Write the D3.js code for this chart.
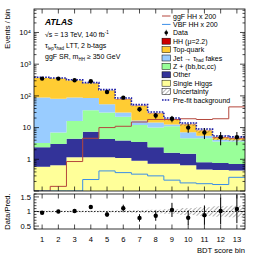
<!DOCTYPE html>
<html lang="en">
<head>
<meta charset="UTF-8">
<script src="https://d3js.org/d3.v7.min.js"></script>
<style>
    body { margin: 0; background: #fff; }
    svg { display: block; font-family: "Liberation Sans", Arial, sans-serif; }
    .lbl { font-size: 7px; fill: #000; }
    .tick { font-size: 7.6px; fill: #000; }
</style>
</head>
<body>
<svg id="chart" width="266" height="255"></svg>
<script>
const bins = [1, 2, 3, 4, 5, 6, 7, 8, 9, 10, 11, 12, 13];
const singleHiggs = [0.48, 0.55, 1.05, 1.05, 1.05, 1.0, 0.8, 0.62, 0.62, 0.55, 0.38, 0.36, 0.34];
const other = [1.8, 2.4, 3.3, 6.2, 3.2, 2.8, 2.6, 1.7, 0.9, 0.85, 0.32, 0.3, 0.27];
const zhf = [0.9, 3.9, 11.7, 27.7, 25.7, 18.2, 8.6, 7.7, 9.5, 3.1, 3.8, 2.85, 2.9];
const jetFakes = [85, 75, 72, 50, 24, 8, 4.5, 4.4, 1.5, 2.5, 0.9, 0.55, 0.4];
const topQuark = [278, 269, 217, 166, 93, 48, 31.5, 13.1, 5.2, 5.4, 2.4, 0.7, 0.5];
const hh = [0.05, 0.1, 0.2, 0.5, 0.9, 1.0, 0.7, 0.5, 0.3, 0.3, 0.2, 0.15, 0.2];
const data = [351, 351, 311, 290, 133, 88, 38, 24, 19, 10, 7, 5, 5];
const prefit = [385, 368, 322, 262, 158, 86, 53, 31, 20, 14, 9, 5.4, 5.1];
const uncRel = [0.03, 0.03, 0.03, 0.03, 0.03, 0.04, 0.05, 0.06, 0.08, 0.12, 0.15, 0.18, 0.2];
const ggfHH = [0.05, 0.14, 0.85, 4.6, 10, 11, 15, 18, 18, 19, 18, 19, 45];
const vbfHH = [0.05, 0.05, 0.05, 0.23, 0.43, 0.38, 0.34, 0.30, 0.22, 0.18, 0.17, 0.16, 0.27];
const yTicks = [1, 10, 100, 1000, 10000];
const yTickLabels = ["1", "10", "10²", "10³", "10⁴"];
const ratioTicks = [0.5, 1, 1.5];

// stack order, bottom to top
const components = [
    { name: "Single Higgs", values: singleHiggs, color: "#ffff99" },
    { name: "Other", values: other, color: "#333399" },
    { name: "Z + (bb,bc,cc)", values: zhf, color: "#99ff99" },
    { name: "Jet fakes", values: jetFakes, color: "#99ccff" },
    { name: "Top-quark", values: topQuark, color: "#ffcc33" },
    { name: "HH", values: hh, color: "#cc0000" }
];

const svg = d3.select("#chart");
const left = 34, right = 245;
const mainTop = 9, mainBottom = 191;
const ratioTop = 194, ratioBottom = 229;

const x = d3.scaleLinear().domain([0.5, 13.5]).range([left, right]);
const y = d3.scaleLog().domain([0.1, 5.5e4]).range([mainBottom, mainTop]).clamp(true);
const yr = d3.scaleLinear().domain([0.4, 1.6]).range([ratioBottom, ratioTop]);

const defs = svg.append("defs");
defs.append("clipPath").attr("id", "clipMain").append("rect")
    .attr("x", left).attr("y", mainTop).attr("width", right - left).attr("height", mainBottom - mainTop);
defs.append("clipPath").attr("id", "clipRatio").append("rect")
    .attr("x", left).attr("y", ratioTop).attr("width", right - left).attr("height", ratioBottom - ratioTop);
const hatch = defs.append("pattern").attr("id", "hatch").attr("patternUnits", "userSpaceOnUse")
    .attr("width", 3).attr("height", 3).attr("patternTransform", "rotate(45)");
hatch.append("line").attr("x1", 0).attr("y1", 0).attr("x2", 0).attr("y2", 3)
    .attr("stroke", "#444").attr("stroke-width", 0.8);

// cumulative stacking
let cum = bins.map(() => 0.1);
const layers = components.map(c => {
    const lo = cum.slice();
    const hi = cum.map((v, i) => v + c.values[i]);
    cum = hi;
    return { ...c, lo, hi };
});
const total = bins.map((b, i) => components.reduce((s, c) => s + c.values[i], 0));

const stepPts = arr => {
    const pts = bins.map((b, i) => ({ x: b - 0.5, v: arr[i] }));
    pts.push({ x: 13.5, v: arr[arr.length - 1] });
    return pts;
};

const gMain = svg.append("g").attr("clip-path", "url(#clipMain)");
layers.forEach(l => {
    const pts = bins.map((b, i) => ({ x: b - 0.5, lo: l.lo[i], hi: l.hi[i] }));
    pts.push({ x: 13.5, lo: l.lo[12], hi: l.hi[12] });
    gMain.append("path")
        .datum(pts)
        .attr("fill", l.color)
        .attr("d", d3.area().curve(d3.curveStepAfter)
            .x(d => x(d.x)).y0(d => y(d.lo)).y1(d => y(d.hi)));
});

// uncertainty band
gMain.selectAll(".unc").data(bins).enter().append("rect")
    .attr("x", d => x(d - 0.5)).attr("width", x(1) - x(0))
    .attr("y", (d, i) => y(total[i] * (1 + uncRel[i])))
    .attr("height", (d, i) => y(total[i] * (1 - uncRel[i])) - y(total[i] * (1 + uncRel[i])))
    .attr("fill", "url(#hatch)");

const stepLine = d3.line().curve(d3.curveStepAfter).x(d => x(d.x)).y(d => y(d.v));
gMain.append("path").datum(stepPts(ggfHH)).attr("d", stepLine)
    .attr("fill", "none").attr("stroke", "#b5473c").attr("stroke-width", 1);
gMain.append("path").datum(stepPts(vbfHH)).attr("d", stepLine)
    .attr("fill", "none").attr("stroke", "#3b8ee8").attr("stroke-width", 1);
gMain.append("path").datum(stepPts(prefit)).attr("d", stepLine)
    .attr("fill", "none").attr("stroke", "#1c1ca8").attr("stroke-width", 1.6)
    .attr("stroke-dasharray", "1.6,1.2");

// data points
bins.forEach((b, i) => {
    const e = Math.sqrt(data[i]);
    gMain.append("line").attr("x1", x(b)).attr("x2", x(b))
        .attr("y1", y(data[i] + e)).attr("y2", y(Math.max(data[i] - e, 0.1)))
        .attr("stroke", "#000").attr("stroke-width", 1);
    gMain.append("circle").attr("cx", x(b)).attr("cy", y(data[i])).attr("r", 2.2).attr("fill", "#000");
});

// ratio panel
const gRatio = svg.append("g").attr("clip-path", "url(#clipRatio)");
gRatio.selectAll(".runc").data(bins).enter().append("rect")
    .attr("x", d => x(d - 0.5)).attr("width", x(1) - x(0))
    .attr("y", (d, i) => yr(1 + uncRel[i]))
    .attr("height", (d, i) => yr(1 - uncRel[i]) - yr(1 + uncRel[i]))
    .attr("fill", "url(#hatch)");
gRatio.append("line").attr("x1", left).attr("x2", right).attr("y1", yr(1)).attr("y2", yr(1))
    .attr("stroke", "#000").attr("stroke-width", 0.8).attr("stroke-dasharray", "1.5,1.5");
bins.forEach((b, i) => {
    const r = data[i] / total[i];
    const e = Math.sqrt(data[i]) / total[i];
    gRatio.append("line").attr("x1", x(b)).attr("x2", x(b))
        .attr("y1", yr(r + e)).attr("y2", yr(r - e))
        .attr("stroke", "#000").attr("stroke-width", 1);
    gRatio.append("circle").attr("cx", x(b)).attr("cy", yr(r)).attr("r", 2.2).attr("fill", "#000");
});

// frames
[[mainTop, mainBottom], [ratioTop, ratioBottom]].forEach(([t, bt]) => {
    svg.append("rect").attr("x", left).attr("y", t).attr("width", right - left).attr("height", bt - t)
        .attr("fill", "none").attr("stroke", "#000").attr("stroke-width", 0.8);
});

// ticks, inside on all sides
const tickG = svg.append("g").attr("stroke", "#000").attr("stroke-width", 0.7);
bins.forEach(b => {
    [[mainTop, 1], [mainBottom, -1], [ratioTop, 1], [ratioBottom, -1]].forEach(([yy, dir]) => {
        tickG.append("line").attr("x1", x(b)).attr("x2", x(b)).attr("y1", yy).attr("y2", yy + dir * 4.5);
    });
});
const minor = [];
for (let p = -1; p <= 4; p++) for (let m = 1; m <= 9; m++) {
    const v = m * Math.pow(10, p);
    if (v >= 0.1 && v <= 5.5e4) minor.push({ v, major: m === 1 });
}
minor.forEach(t => {
    const len = t.major ? 5 : 2.5;
    tickG.append("line").attr("x1", left).attr("x2", left + len).attr("y1", y(t.v)).attr("y2", y(t.v));
    tickG.append("line").attr("x1", right).attr("x2", right - len).attr("y1", y(t.v)).attr("y2", y(t.v));
});
d3.range(0.4, 1.61, 0.1).forEach(v => {
    const major = ratioTicks.some(t => Math.abs(t - v) < 1e-6);
    const len = major ? 5 : 2.5;
    tickG.append("line").attr("x1", left).attr("x2", left + len).attr("y1", yr(v)).attr("y2", yr(v));
    tickG.append("line").attr("x1", right).attr("x2", right - len).attr("y1", yr(v)).attr("y2", yr(v));
});

// tick labels
yTicks.forEach((t, i) => {
    svg.append("text").attr("class", "tick").attr("x", left - 3).attr("y", y(t) + 2.8)
        .attr("text-anchor", "end").text(yTickLabels[i]);
});
ratioTicks.forEach(t => {
    svg.append("text").attr("class", "tick").attr("x", left - 3).attr("y", yr(t) + 2.8)
        .attr("text-anchor", "end").text(t);
});
bins.forEach(b => {
    svg.append("text").attr("class", "tick").attr("x", x(b)).attr("y", 241.5)
        .attr("text-anchor", "middle").text(b);
});

// axis titles
svg.append("text").attr("class", "tick").attr("transform", "translate(10,9) rotate(-90)")
    .attr("text-anchor", "end").text("Events / bin");
svg.append("text").attr("class", "tick").attr("transform", `translate(10,${yr(1)}) rotate(-90)`)
    .attr("text-anchor", "middle").text("Data/Pred.");
svg.append("text").attr("class", "tick").attr("x", right).attr("y", 253)
    .attr("text-anchor", "end").text("BDT score bin");

// annotations
svg.append("text").attr("x", 45).attr("y", 25).attr("font-size", 8.5)
    .attr("font-weight", "bold").attr("font-style", "italic").text("ATLAS");
const t1 = svg.append("text").attr("class", "lbl").attr("x", 45).attr("y", 37);
t1.append("tspan").text("√s = 13 TeV, 140 fb");
t1.append("tspan").attr("font-size", 4.5).attr("dy", -3).text("-1");
const t2 = svg.append("text").attr("class", "lbl").attr("x", 45).attr("y", 48);
t2.append("tspan").text("τ");
t2.append("tspan").attr("font-size", 4.5).attr("dy", 1.5).text("lep");
t2.append("tspan").attr("dy", -1.5).text("τ");
t2.append("tspan").attr("font-size", 4.5).attr("dy", 1.5).text("had");
t2.append("tspan").attr("dy", -1.5).text(" LTT, 2 b-tags");
const t3 = svg.append("text").attr("class", "lbl").attr("x", 45).attr("y", 59);
t3.append("tspan").text("ggF SR, m");
t3.append("tspan").attr("font-size", 4.5).attr("dy", 1.5).text("HH");
t3.append("tspan").attr("dy", -1.5).text(" ≥ 350 GeV");

// legend
const legendItems = [
    { label: "ggF HH x 200", type: "line", color: "#b5473c" },
    { label: "VBF HH x 200", type: "line", color: "#3b8ee8" },
    { label: "Data", type: "data" },
    { label: "HH (μ=2.2)", type: "box", color: "#cc0000" },
    { label: "Top-quark", type: "box", color: "#ffcc33" },
    { label: "Jet → τ", sub: "had", rest: " fakes", type: "box", color: "#99ccff" },
    { label: "Z + (bb,bc,cc)", type: "box", color: "#99ff99" },
    { label: "Other", type: "box", color: "#333399" },
    { label: "Single Higgs", type: "box", color: "#ffff99" },
    { label: "Uncertainty", type: "hatch" },
    { label: "Pre-fit background", type: "dash" }
];
const legY0 = 16, legStep = 8.4, symX = 162, symW = 8.5, txtX = 173;
legendItems.forEach((it, i) => {
    const yy = legY0 + i * legStep;
    if (it.type === "line") {
        svg.append("line").attr("x1", symX).attr("x2", symX + symW).attr("y1", yy).attr("y2", yy)
            .attr("stroke", it.color).attr("stroke-width", 1);
    } else if (it.type === "data") {
        svg.append("line").attr("x1", symX + symW / 2).attr("x2", symX + symW / 2)
            .attr("y1", yy - 3).attr("y2", yy + 3).attr("stroke", "#000").attr("stroke-width", 0.8);
        svg.append("circle").attr("cx", symX + symW / 2).attr("cy", yy).attr("r", 1.8).attr("fill", "#000");
    } else if (it.type === "box" || it.type === "hatch") {
        svg.append("rect").attr("x", symX).attr("y", yy - 3).attr("width", symW).attr("height", 6)
            .attr("fill", it.type === "hatch" ? "url(#hatch)" : it.color)
            .attr("stroke", "#000").attr("stroke-width", 0.5);
    } else {
        svg.append("line").attr("x1", symX).attr("x2", symX + symW).attr("y1", yy).attr("y2", yy)
            .attr("stroke", "#1c1ca8").attr("stroke-width", 1.6).attr("stroke-dasharray", "1.6,1.2");
    }
    const t = svg.append("text").attr("class", "lbl").attr("x", txtX).attr("y", yy + 2.5)
        .attr("font-size", 7.2);
    t.append("tspan").text(it.label);
    if (it.sub) {
        t.append("tspan").attr("font-size", 4.5).attr("dy", 1.5).text(it.sub);
        t.append("tspan").attr("dy", -1.5).text(it.rest);
    }
});
</script>
</body>
</html>
